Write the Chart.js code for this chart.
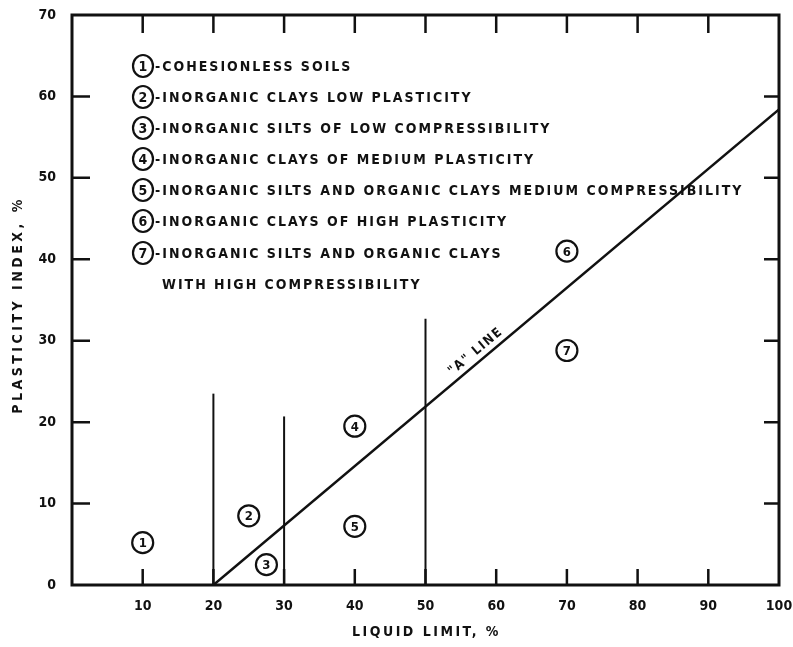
<!DOCTYPE html>
<html>
<head>
<meta charset="utf-8">
<script src="https://cdn.jsdelivr.net/npm/chart.js@4.4.1/dist/chart.umd.min.js"></script>
<style>
  html, body { margin: 0; background: #fff; }
  #wrap { width: 793px; height: 647px; }
</style>
</head>
<body>
<div id="wrap"><canvas id="chart"></canvas></div>
<script>
// plasticity chart data
const aLineLL = [20, 100];
const aLinePI = [0, 58.4];

const boundaryLL = [20, 30, 50];
const boundaryTopPI = [23.5, 20.7, 32.7];

const zoneIds = ['1', '2', '3', '4', '5', '6', '7'];
const zoneLL = [10, 25, 27.5, 40, 40, 70, 70];
const zonePI = [5.2, 8.5, 2.5, 19.5, 7.2, 41, 28.8];

const legendLines = [
  '-COHESIONLESS SOILS',
  '-INORGANIC CLAYS LOW PLASTICITY',
  '-INORGANIC SILTS OF LOW COMPRESSIBILITY',
  '-INORGANIC CLAYS OF MEDIUM PLASTICITY',
  '-INORGANIC SILTS AND ORGANIC CLAYS MEDIUM COMPRESSIBILITY',
  '-INORGANIC CLAYS OF HIGH PLASTICITY',
  '-INORGANIC SILTS AND ORGANIC CLAYS'
];
const legendExtra = 'WITH HIGH COMPRESSIBILITY';

const xTitle = 'LIQUID LIMIT, %';
const yTitle = 'PLASTICITY INDEX, %';

const innerTicksX = [10, 20, 30, 40, 50, 60, 70, 80, 90];
const innerTicksY = [10, 20, 30, 40, 50, 60];

const ink = '#111';
const FONT = "'DejaVu Sans Condensed', 'DejaVu Sans', sans-serif";

Chart.defaults.font.family = FONT;
Chart.defaults.font.weight = 'bold';
Chart.defaults.color = ink;

const datasets = [{
  type: 'line',
  data: aLineLL.map((v, i) => ({x: v, y: aLinePI[i]})),
  borderColor: ink,
  borderWidth: 2.5,
  pointRadius: 0
}];
boundaryLL.forEach((v, i) => {
  datasets.push({
    type: 'line',
    data: [{x: v, y: 0}, {x: v, y: boundaryTopPI[i]}],
    borderColor: ink,
    borderWidth: 2,
    pointRadius: 0
  });
});
const zoneIndex = datasets.length;
datasets.push({
  data: zoneLL.map((v, i) => ({x: v, y: zonePI[i]})),
  pointRadius: 10.5,
  pointBorderWidth: 2.2,
  pointBorderColor: ink,
  pointBackgroundColor: '#fff'
});

function circledNumber(ctx, txt, cx, cy) {
  ctx.beginPath();
  ctx.ellipse(cx, cy, 10, 11, 0, 0, Math.PI * 2);
  ctx.fillStyle = '#fff';
  ctx.fill();
  ctx.lineWidth = 2.2;
  ctx.stroke();
  ctx.fillStyle = ink;
  ctx.fillText(txt, cx, cy + 1);
}

const extras = {
  id: 'extras',
  afterDatasetsDraw(chart) {
    const {ctx, chartArea: a, scales: {x, y}} = chart;
    ctx.save();
    ctx.strokeStyle = ink;
    ctx.lineWidth = 3;
    ctx.strokeRect(a.left, a.top, a.right - a.left, a.bottom - a.top);

    // inward tick marks on all four sides
    ctx.lineWidth = 2.5;
    ctx.beginPath();
    innerTicksX.forEach(v => {
      const px = x.getPixelForValue(v);
      ctx.moveTo(px, a.bottom); ctx.lineTo(px, a.bottom - 16);
      ctx.moveTo(px, a.top); ctx.lineTo(px, a.top + 18);
    });
    innerTicksY.forEach(v => {
      const py = y.getPixelForValue(v);
      ctx.moveTo(a.left, py); ctx.lineTo(a.left + 18, py);
      ctx.moveTo(a.right, py); ctx.lineTo(a.right - 15, py);
    });
    ctx.stroke();

    // numbers inside zone circles
    ctx.font = 'bold 13px ' + FONT;
    ctx.textAlign = 'center';
    ctx.textBaseline = 'middle';
    ctx.fillStyle = ink;
    chart.getDatasetMeta(zoneIndex).data.forEach((pt, i) => {
      ctx.fillText(zoneIds[i], pt.x, pt.y + 1);
    });

    // "A" LINE label along the line
    const x0 = x.getPixelForValue(aLineLL[0]), y0 = y.getPixelForValue(aLinePI[0]);
    const x1 = x.getPixelForValue(aLineLL[1]), y1 = y.getPixelForValue(aLinePI[1]);
    const ang = Math.atan2(y1 - y0, x1 - x0);
    const t = 0.475;
    const cx = x0 + (x1 - x0) * t + Math.sin(ang) * 10;
    const cy = y0 + (y1 - y0) * t - Math.cos(ang) * 10;
    ctx.save();
    ctx.translate(cx, cy);
    ctx.rotate(ang);
    ctx.font = 'bold 13px ' + FONT;
    ctx.letterSpacing = '1.5px';
    ctx.fillText('"A" LINE', 0, 0);
    ctx.restore();

    // legend block
    const lx = 143, rowY = [66, 97, 128, 159, 190, 221, 253];
    ctx.font = 'bold 14px ' + FONT;
    legendLines.forEach((txt, i) => {
      ctx.letterSpacing = '0px';
      ctx.textAlign = 'center';
      circledNumber(ctx, zoneIds[i], lx, rowY[i]);
      ctx.letterSpacing = '2px';
      ctx.textAlign = 'left';
      ctx.fillText(txt, lx + 12, rowY[i] + 1);
    });
    ctx.fillText(legendExtra, lx + 19, 285);

    // axis titles
    ctx.font = 'bold 14px ' + FONT;
    ctx.textAlign = 'center';
    ctx.letterSpacing = '2.5px';
    ctx.fillText(xTitle, (a.left + a.right) / 2 + 1, 632);
    ctx.translate(18, 305);
    ctx.rotate(-Math.PI / 2);
    ctx.letterSpacing = '3.5px';
    ctx.fillText(yTitle, 0, 0);
    ctx.restore();
  }
};

new Chart(document.getElementById('chart'), {
  type: 'scatter',
  data: {datasets},
  options: {
    responsive: true,
    maintainAspectRatio: false,
    animation: false,
    layout: {padding: {top: 15, right: 14, left: 0, bottom: 0}},
    plugins: {legend: {display: false}, tooltip: {enabled: false}},
    scales: {
      x: {
        type: 'linear',
        min: 0,
        max: 100,
        afterFit: s => { s.height = 62; s.paddingLeft = 0; s.paddingRight = 0; },
        grid: {display: false, drawTicks: false},
        border: {display: false},
        ticks: {
          stepSize: 10,
          padding: 13,
          font: {size: 14, weight: 'bold'},
          callback: v => (v === 0 ? '' : v)
        }
      },
      y: {
        min: 0,
        max: 70,
        afterFit: s => { s.width = 72; s.paddingTop = 0; s.paddingBottom = 0; },
        grid: {display: false, drawTicks: false},
        border: {display: false},
        ticks: {stepSize: 10, padding: 16, font: {size: 14, weight: 'bold'}}
      }
    }
  },
  plugins: [extras]
});
</script>
</body>
</html>
